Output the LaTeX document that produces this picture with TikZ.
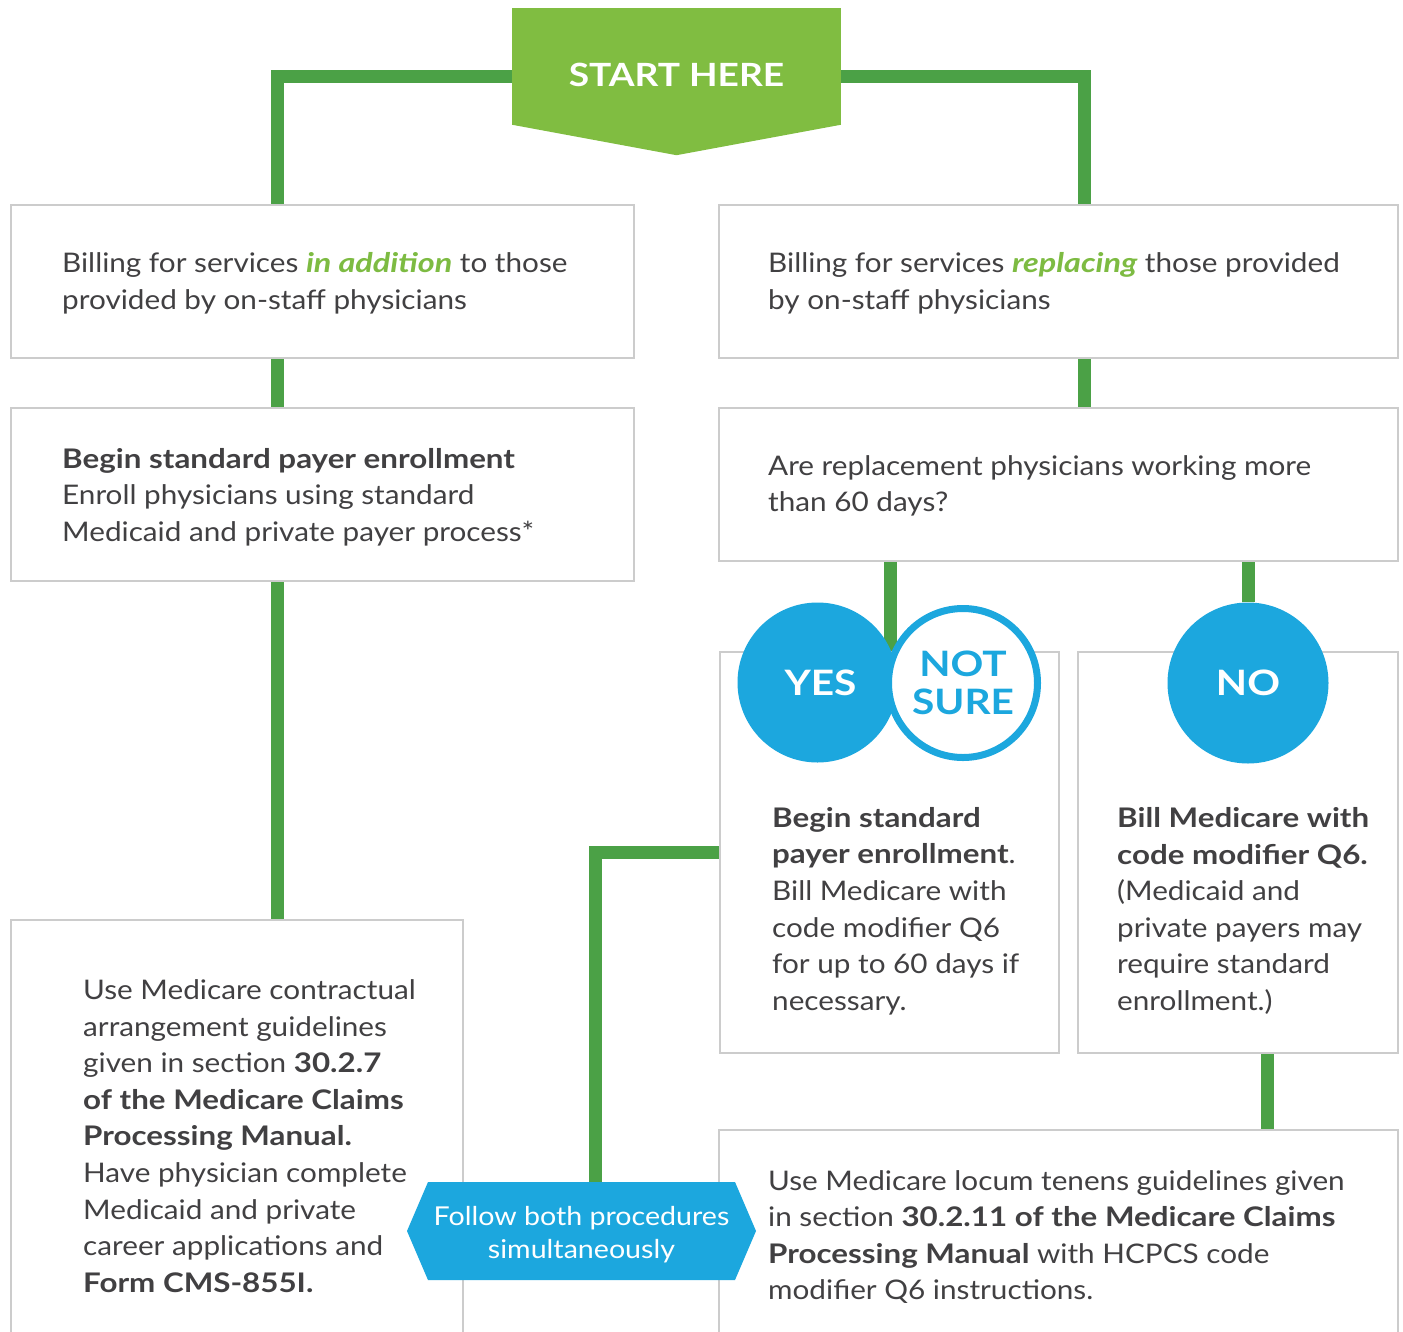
\documentclass[tikz,border=0pt]{standalone}
\usepackage{fontspec}
\setmainfont{Lato}[FakeStretch=1.10,BoldFeatures={FakeStretch=1.16},BoldItalicFeatures={FakeStretch=1.2}]
\usetikzlibrary{backgrounds,calc}
\definecolor{startgreen}{HTML}{80BD41}
\definecolor{linegreen}{HTML}{4BA146}
\definecolor{accgreen}{HTML}{7DBB42}
\definecolor{cblue}{HTML}{1CA7DE}
\definecolor{tgray}{HTML}{414042}
\definecolor{bgray}{HTML}{CCCCCC}
\begin{document}
\begin{tikzpicture}[x=1pt,y=-1pt,
  box/.style={draw=bgray,line width=1.8pt,fill=white,inner sep=0pt},
  conn/.style={draw=linegreen,line width=13pt},
  txt/.style={anchor=west,align=left,inner sep=0pt,text=tgray,font=\fontsize{27}{36.6}\selectfont},
  bubble/.style={circle,fill=cblue,text=white,inner sep=0pt,font=\bfseries\fontsize{35}{38}\selectfont,align=center}]
\useasboundingbox (0,0) rectangle (1403,1331);
% start banner
\node[fill=startgreen,minimum width=329pt,minimum height=117pt,inner sep=0pt,text=white,text height=39pt,text depth=0pt,font=\bfseries\fontsize{32}{34}\selectfont] (start) at (676.5,66.5) {START HERE};
\fill[startgreen] ([yshift=0.5pt]start.south west) -- ([yshift=0.5pt]start.south east) -- ([yshift=-30pt]start.south) -- cycle;
% boxes
\node[box,minimum width=623pt,minimum height=153pt] (b1) at (322.5,281.5) {};
\node[box,minimum width=679pt,minimum height=153pt] (b2) at (1058.5,281.5) {};
\node[box,minimum width=623pt,minimum height=173pt] (b3) at (322.5,494.5) {};
\node[box,minimum width=679pt,minimum height=153pt] (b4) at (1058.5,484.5) {};
\node[box,minimum width=339pt,minimum height=401pt] (yesbox) at (889.5,852.5) {};
\node[box,minimum width=320pt,minimum height=401pt] (nobox) at (1238,852.5) {};
\node[box,minimum width=452pt,minimum height=425pt] (b5) at (237,1132.5) {};
\node[box,minimum width=679pt,minimum height=215pt] (b6) at (1058.5,1237.5) {};
% texts
\node[txt] (t1) at (62,283) {Billing for services \textcolor{accgreen}{\bfseries\itshape in addition} to those\\provided by on-staff physicians};
\node[txt] (t2) at (768,283) {Billing for services \textcolor{accgreen}{\bfseries\itshape replacing} those provided\\by on-staff physicians};
\node[txt] (t3) at (62,497) {\textbf{Begin standard payer enrollment}\\Enroll physicians using standard\\Medicaid and private payer process*};
\node[txt] (t4) at (768,486) {Are replacement physicians working more\\than 60 days?};
\node[txt] (tyes) at (772,911) {\textbf{Begin standard}\\\textbf{payer enrollment}.\\Bill Medicare with\\code modifier Q6\\for up to 60 days if\\necessary.};
\node[txt] (tno) at (1117,911) {\textbf{Bill Medicare with}\\\textbf{code modifier Q6.}\\(Medicaid and\\private payers may\\require standard\\enrollment.)};
\node[txt] (t5) at (83,1136) {Use Medicare contractual\\arrangement guidelines\\given in section \textbf{30.2.7}\\\textbf{of the Medicare Claims}\\\textbf{Processing Manual.}\\Have physician complete\\Medicaid and private\\career applications and\\\textbf{Form CMS-855I.}};
\node[txt] (t6) at (768,1237) {Use Medicare locum tenens guidelines given\\in section \textbf{30.2.11 of the Medicare Claims}\\\textbf{Processing Manual} with HCPCS code\\modifier Q6 instructions.};
% bubbles
\node[bubble,minimum size=160pt] (yes) at (817.5,682.5) {\hspace{6pt}YES};
\node[bubble,minimum size=149pt,fill=white,draw=cblue,line width=7pt,text=cblue] (notsure) at (963,683) {NOT\\SURE};
\node[bubble,minimum size=161pt] (no) at (1248,683) {NO};
% hexagon
\coordinate (hc) at (581.5,1231);
\fill[cblue] ($(hc)+(-153.5,-49)$) -- ($(hc)+(153.5,-49)$) -- ($(hc)+(174.5,0)$) -- ($(hc)+(153.5,49)$) -- ($(hc)+(-153.5,49)$) -- ($(hc)+(-174.5,0)$) -- cycle;
\node[text=white,minimum width=307pt,minimum height=98pt,inner sep=0pt,align=center,yshift=-4pt,font=\fontsize{26}{33}\selectfont] (hex) at (hc) {Follow both procedures\\simultaneously};
% connectors
\begin{scope}[on background layer]
\draw[conn] ([yshift=-9.5pt]start.west) -| ([xshift=-45.5pt]b1.north);
\draw[conn] ([yshift=-9.5pt]start.east) -| ([xshift=25.5pt]b2.north);
\draw[conn] ([xshift=-45.5pt]b1.south) -- ([xshift=-45.5pt]b3.north);
\draw[conn] ([xshift=25.5pt]b2.south) -- ([xshift=25.5pt]b4.north);
\draw[conn] ([xshift=-45.5pt]b3.south) -- ([xshift=40pt]b5.north);
\draw[conn] ([xshift=-168.5pt]b4.south) -- ([xshift=-168.5pt,yshift=-90pt]b4.south);
\draw[conn] (no.north |- b4.south) -- (no.north);
\draw[conn] (yesbox.west) -| ([xshift=13.5pt]hex.north);
\draw[conn] ([xshift=29pt]nobox.south) -- ([xshift=29pt]nobox.south |- b6.north);
\end{scope}
\end{tikzpicture}
\end{document}
